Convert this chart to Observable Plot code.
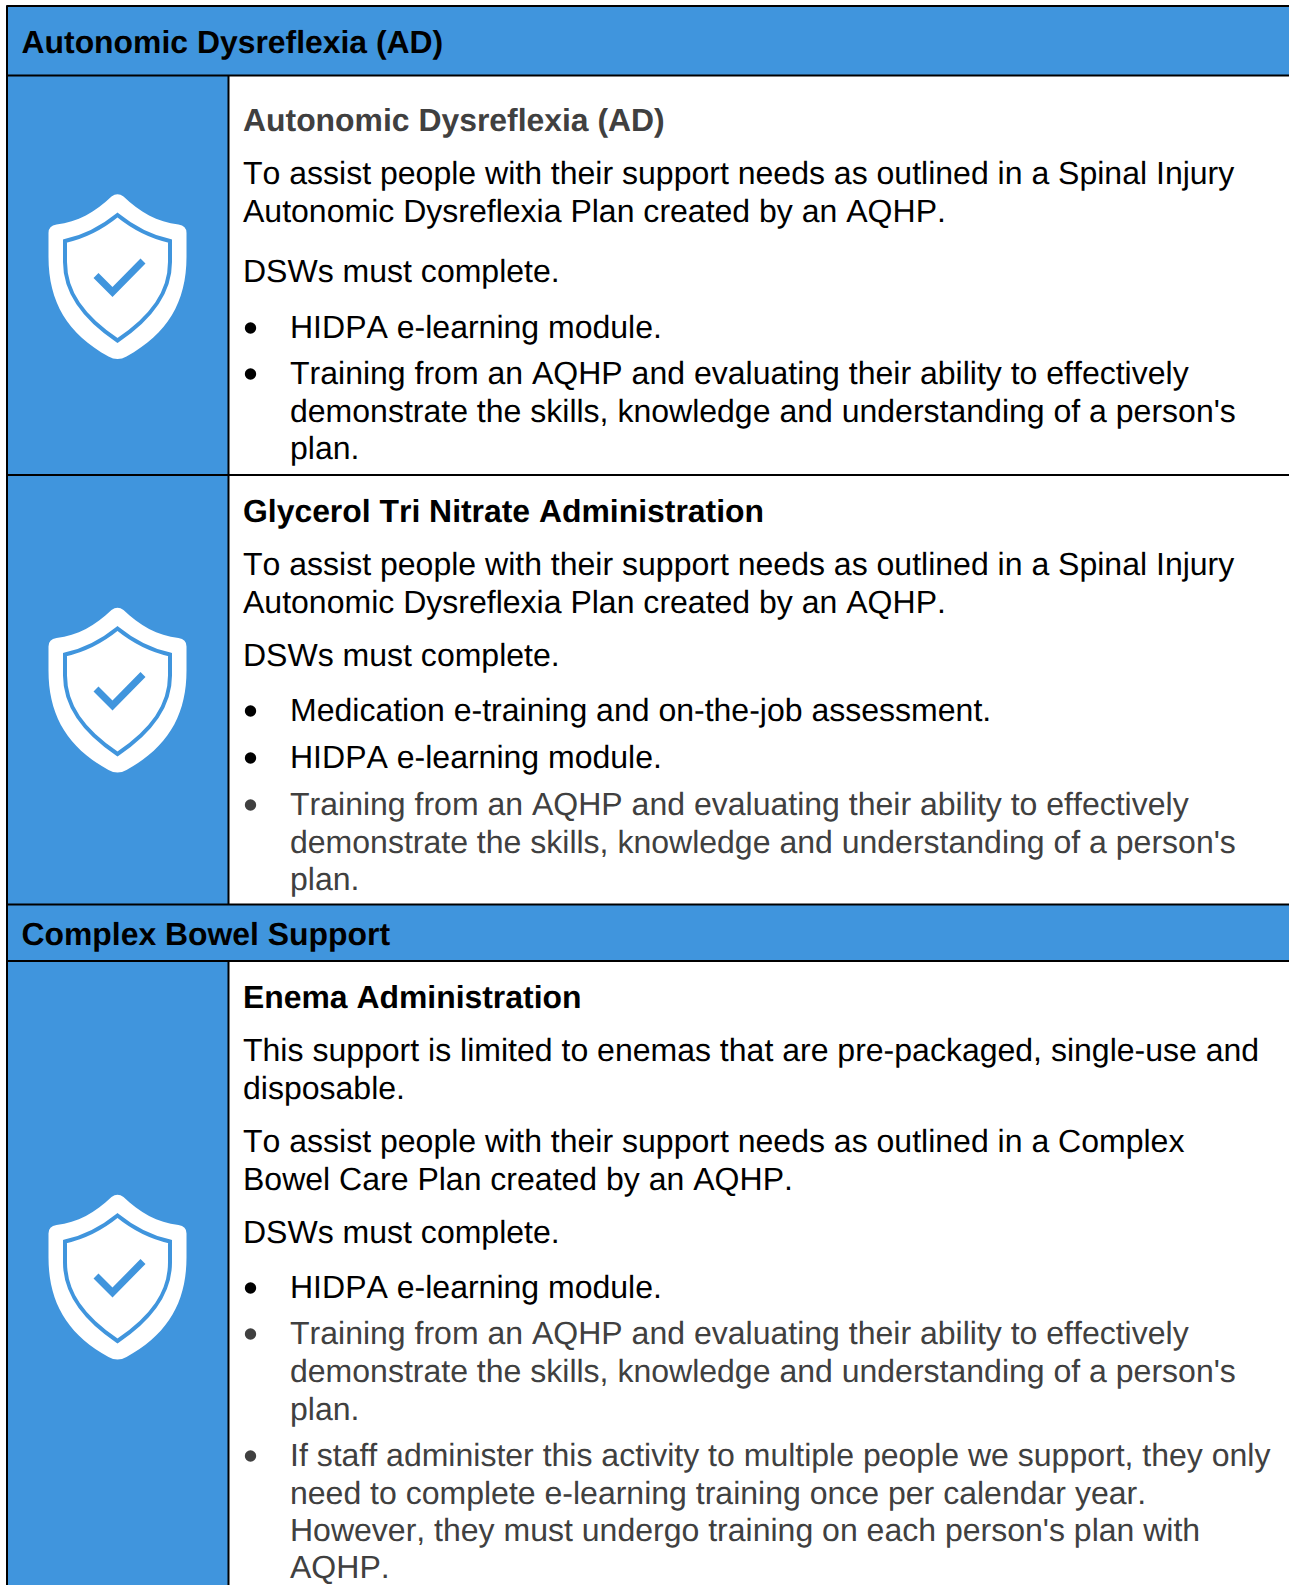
<!DOCTYPE html>
<html>
<head>
<meta charset="utf-8">
<script src="https://cdn.jsdelivr.net/npm/d3@7"></script>
<script src="https://cdn.jsdelivr.net/npm/@observablehq/plot@0.6"></script>
<style>html,body{margin:0;padding:0;background:#fff;overflow:hidden}svg{display:block}svg text{font-kerning:none;text-rendering:geometricPrecision}</style>
</head>
<body>
<div id="chart"></div>
<script>
// ---- content ----
const sectionTitles = ["Autonomic Dysreflexia (AD)", "Complex Bowel Support"];
const supportTitles = ["Autonomic Dysreflexia (AD)", "Glycerol Tri Nitrate Administration", "Enema Administration"];
const paragraphLines = [
  "To assist people with their support needs as outlined in a Spinal Injury",
  "Autonomic Dysreflexia Plan created by an AQHP.",
  "DSWs must complete.",
  "To assist people with their support needs as outlined in a Spinal Injury",
  "Autonomic Dysreflexia Plan created by an AQHP.",
  "DSWs must complete.",
  "This support is limited to enemas that are pre-packaged, single-use and",
  "disposable.",
  "To assist people with their support needs as outlined in a Complex",
  "Bowel Care Plan created by an AQHP.",
  "DSWs must complete."
];
const bulletLines = [
  "HIDPA e-learning module.",
  "Training from an AQHP and evaluating their ability to effectively",
  "demonstrate the skills, knowledge and understanding of a person's",
  "plan.",
  "Medication e-training and on-the-job assessment.",
  "HIDPA e-learning module.",
  "Training from an AQHP and evaluating their ability to effectively",
  "demonstrate the skills, knowledge and understanding of a person's",
  "plan.",
  "HIDPA e-learning module.",
  "Training from an AQHP and evaluating their ability to effectively",
  "demonstrate the skills, knowledge and understanding of a person's",
  "plan.",
  "If staff administer this activity to multiple people we support, they only",
  "need to complete e-learning training once per calendar year.",
  "However, they must undergo training on each person's plan with",
  "AQHP."
];
const startsBullet = [1,1,0,0,1,1,1,0,0,1,1,0,0,1,0,0,0];
const mutedBullet  = [0,0,0,0,0,0,1,1,1,0,1,1,1,1,1,1,1];
const mutedSupport = [1,0,0];

// ---- page layout (separate from the content) ----
const BLUE = "#4095dd", INK = "#000000", MUTED = "#404040";
const W = 1289, H = 1585, FONT = "'Liberation Sans', Arial, sans-serif", SIZE = 32.03, BOLD_SIZE = 31.9;
const LEFT = 6.5, TOP = 5.5, COL = 228, TEXT_X = 242.5, BULLET_X = 250, BULLET_TEXT_X = 289.5;
const sectionBaselines = [52.5, 944];
const supportBaselines = [130, 521, 1007];
const paragraphBaselines = [183, 221, 281, 574, 612, 665, 1060, 1098, 1151, 1189, 1242];
const bulletBaselines = [337, 383, 421, 458, 720, 767, 814, 852, 889, 1297, 1343, 1381, 1419, 1465, 1503, 1540, 1577];
const bandEdges = [[TOP, 75], [904, 961]];
const ruleYs = [TOP, 75, 474.5, 904, 960.5];
const colEdges = [[75, 904], [961, H]];
const iconCentres = [276.5, 690, 1277];
const ICON_X = 117;

const zip = (texts, ys, extra = () => ({})) => texts.map((t, i) => ({t, y: ys[i], ...extra(i)}));
const sections = zip(sectionTitles, sectionBaselines);
const supports = zip(supportTitles, supportBaselines, i => ({muted: mutedSupport[i]}));
const paragraphs = zip(paragraphLines, paragraphBaselines);
const bullets = zip(bulletLines, bulletBaselines, i => ({muted: mutedBullet[i], start: startsBullet[i]}));

// Icon glyphs as symbols; drawn at pixel scale for r = 83
const k = size => Math.sqrt(size / Math.PI) / 83;
const shieldOuter = {draw(c, size) {
  const s = k(size);
  c.moveTo(-6*s, -80.5*s);
  c.quadraticCurveTo(0, -85*s, 6*s, -80.5*s);
  c.bezierCurveTo(22*s, -65*s, 40*s, -55*s, 61*s, -52.5*s);
  c.quadraticCurveTo(69*s, -51.5*s, 69*s, -44*s);
  c.lineTo(69*s, -20*s);
  c.bezierCurveTo(69*s, 25*s, 50*s, 57*s, 9*s, 79.5*s);
  c.quadraticCurveTo(0, 84.5*s, -9*s, 79.5*s);
  c.bezierCurveTo(-50*s, 57*s, -69*s, 25*s, -69*s, -20*s);
  c.lineTo(-69*s, -44*s);
  c.quadraticCurveTo(-69*s, -51.5*s, -61*s, -52.5*s);
  c.bezierCurveTo(-40*s, -55*s, -22*s, -65*s, -6*s, -80.5*s);
  c.closePath();
}};
const shieldInner = {draw(c, size) {
  const s = k(size);
  c.moveTo(0, -62*s);
  c.bezierCurveTo(16*s, -49*s, 34*s, -40*s, 52.5*s, -36*s);
  c.lineTo(52.5*s, -15*s);
  c.bezierCurveTo(52.5*s, 15*s, 35*s, 40*s, 0, 63.5*s);
  c.bezierCurveTo(-35*s, 40*s, -52.5*s, 15*s, -52.5*s, -15*s);
  c.lineTo(-52.5*s, -36*s);
  c.bezierCurveTo(-34*s, -40*s, -16*s, -49*s, 0, -62*s);
  c.closePath();
}};
const checkMark = {draw(c, size) {
  const s = k(size);
  c.moveTo(-21.5*s, -1.5*s);
  c.lineTo(-5*s, 15*s);
  c.lineTo(25.5*s, -16*s);
}};

const textCommon = {y: "y", text: "t", textAnchor: "start", lineAnchor: "bottom", fontFamily: FONT, fontSize: SIZE};

const plot = Plot.plot({
  width: W, height: H, margin: 0,
  style: {background: "#fff", fontFamily: FONT},
  x: {domain: [0, W], range: [0, W], axis: null},
  y: {domain: [0, H], range: [0, H], axis: null},
  marks: [
    Plot.rectY(bandEdges, {x1: LEFT, x2: W, y1: d => d[0], y2: d => d[1], fill: BLUE}),
    Plot.rectY(colEdges, {x1: LEFT, x2: COL, y1: d => d[0], y2: d => d[1], fill: BLUE}),
    Plot.ruleY(ruleYs, {x1: LEFT, x2: W, stroke: "#000", strokeWidth: 2}),
    Plot.ruleX([LEFT], {y1: TOP, y2: H, stroke: "#000", strokeWidth: 2}),
    Plot.ruleX([COL], {y1: 75, y2: 904, stroke: "#000", strokeWidth: 2}),
    Plot.ruleX([COL], {y1: 961, y2: H, stroke: "#000", strokeWidth: 2}),
    Plot.dot(iconCentres, {x: () => ICON_X, y: d => d, r: 83, symbol: shieldOuter, fill: "#fff", stroke: "none"}),
    Plot.dot(iconCentres, {x: () => ICON_X, y: d => d, r: 83, symbol: shieldInner, fill: "none", stroke: BLUE, strokeWidth: 4}),
    Plot.dot(iconCentres, {x: () => ICON_X, y: d => d, r: 83, symbol: checkMark, fill: "none", stroke: BLUE, strokeWidth: 7}),
    Plot.text(sections, {...textCommon, fontSize: BOLD_SIZE, x: () => 21, fontWeight: "bold", fill: INK}),
    Plot.text(supports, {...textCommon, fontSize: BOLD_SIZE, x: () => TEXT_X, fontWeight: "bold", fill: d => d.muted ? MUTED : INK}),
    Plot.text(paragraphs, {...textCommon, x: () => TEXT_X, fill: INK}),
    Plot.text(bullets, {...textCommon, x: () => BULLET_TEXT_X, fill: d => d.muted ? MUTED : INK}),
    Plot.dot(bullets.filter(d => d.start), {x: () => BULLET_X, y: d => d.y - 9.5, r: 5.7, fill: d => d.muted ? MUTED : INK, stroke: "none"})
  ]
});
document.getElementById("chart").appendChild(plot);
</script>
</body>
</html>
